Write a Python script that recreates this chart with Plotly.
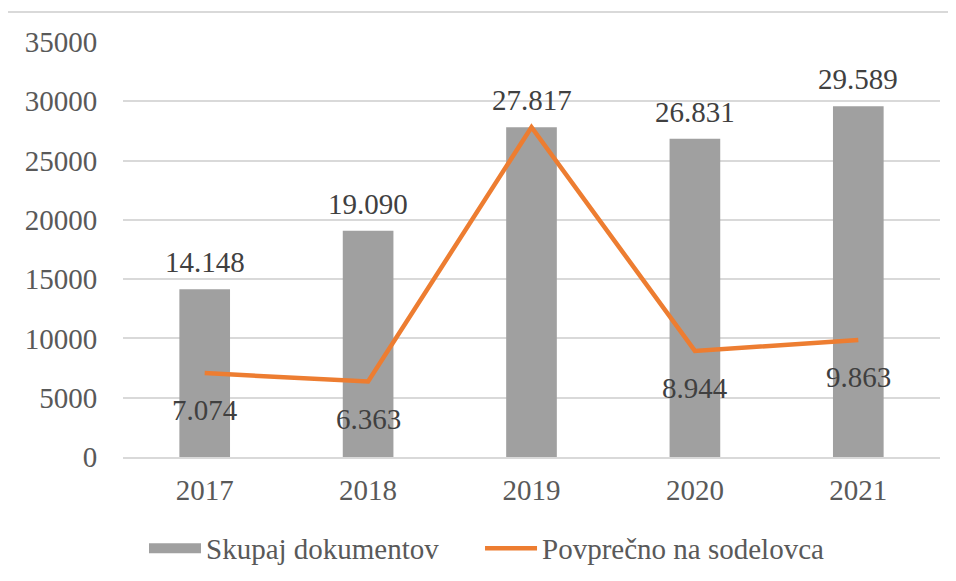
import plotly.graph_objects as go

years = ["2017", "2018", "2019", "2020", "2021"]
skupaj = [14148, 19090, 27817, 26831, 29589]
povprecno = [7074, 6363, 27817, 8944, 9863]
skupaj_labels = ["14.148", "19.090", "27.817", "26.831", "29.589"]
povprecno_labels = ["7.074", "6.363", "", "8.944", "9.863"]
y_ticks = [0, 5000, 10000, 15000, 20000, 25000, 30000, 35000]

FONT = "Liberation Serif"
FS = 29
BAR_COLOR = "#A0A0A0"
LINE_COLOR = "#ED7D31"

fig = go.Figure()
fig.add_trace(go.Bar(
    x=years, y=skupaj, name="Skupaj dokumentov", showlegend=False,
    marker=dict(color=BAR_COLOR, line=dict(width=0)),
    width=0.31,
))
# legend-only entry drawn as a wide grey swatch, like the reference legend
fig.add_trace(go.Scatter(
    x=[None], y=[None], name="Skupaj dokumentov", mode="lines",
    line=dict(color=BAR_COLOR, width=14), legend="legend",
))
fig.add_trace(go.Scatter(
    x=years, y=povprecno, name="Povprečno na sodelovca",
    mode="lines", line=dict(color=LINE_COLOR, width=4.5), legend="legend2",
))

for i, (y, t) in enumerate(zip(skupaj, skupaj_labels)):
    fig.add_annotation(x=i, y=y, text=t, showarrow=False, yshift=27,
                       font=dict(family=FONT, size=29, color="#404040"))
for i, (y, t) in enumerate(zip(povprecno, povprecno_labels)):
    if t:
        fig.add_annotation(x=i, y=y, text=t, showarrow=False, yshift=-37,
                           font=dict(family=FONT, size=29, color="#404040"))

fig.add_shape(type="rect", xref="paper", yref="paper",
              x0=-0.142, x1=1.2, y0=-0.5, y1=1.072,
              line=dict(color="#D9D9D9", width=2), layer="below")

legend_style = dict(orientation="h", y=-0.22, yanchor="middle", xanchor="left",
                    font=dict(family=FONT, size=FS, color="#595959"), itemwidth=52,
                    bgcolor="rgba(0,0,0,0)")

fig.update_layout(
    width=940, height=565,
    margin=dict(l=115, r=8, t=34, b=116, autoexpand=False),
    paper_bgcolor="white", plot_bgcolor="white",
    font=dict(family=FONT, size=FS, color="#595959"),
    showlegend=True,
    legend=dict(x=0.0257, **legend_style),
    legend2=dict(x=0.437, **legend_style),
    xaxis=dict(type="category", range=[-0.5, 4.5], showline=True, linecolor="#D9D9D9",
               linewidth=2, showgrid=False, ticks="outside", ticklen=6,
               tickcolor="rgba(0,0,0,0)", automargin=False,
               tickfont=dict(family=FONT, size=FS, color="#595959")),
    yaxis=dict(range=[0, 35000], tickvals=y_ticks, ticktext=[str(v) for v in y_ticks],
               showgrid=True, gridcolor="#D9D9D9", gridwidth=2, zeroline=False,
               showline=False, ticks="outside", ticklen=19, tickcolor="rgba(0,0,0,0)",
               automargin=False,
               tickfont=dict(family=FONT, size=FS, color="#595959")),
)

fig.write_html("out.html")
